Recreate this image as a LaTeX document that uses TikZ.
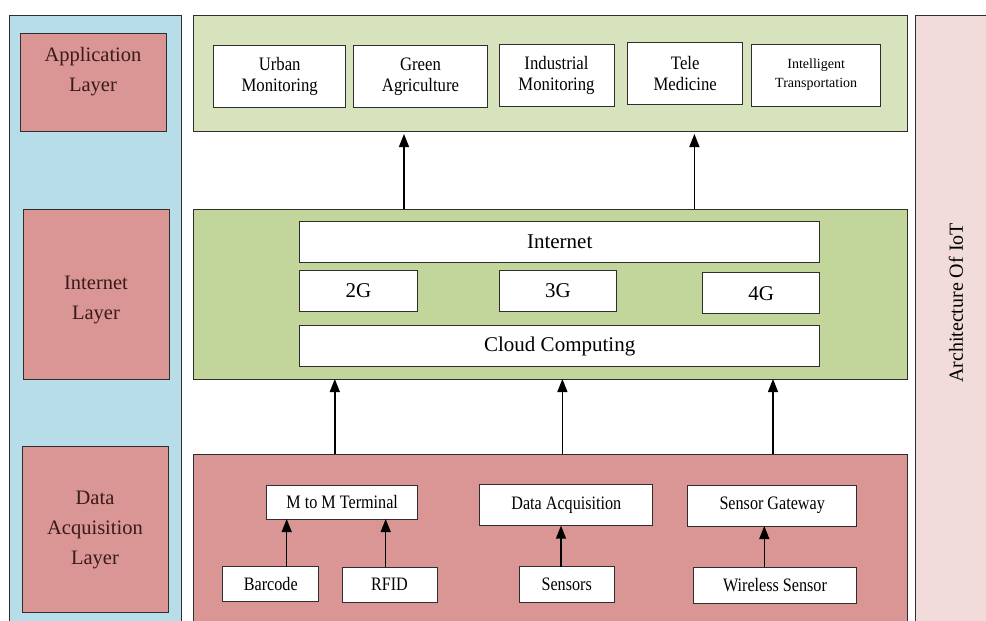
\documentclass[tikz,border=0pt]{standalone}
\usepackage{fontspec}
\setmainfont{Liberation Serif}
\newfontfamily\appf[FakeStretch=0.88]{Liberation Serif}
\newfontfamily\datf[FakeStretch=0.85]{Liberation Serif}
\usetikzlibrary{arrows.meta}
\definecolor{panelblue}{HTML}{B7DDE8}
\definecolor{layerred}{HTML}{D99694}
\definecolor{appgreen}{HTML}{D7E3BC}
\definecolor{netgreen}{HTML}{C2D69B}
\definecolor{panelpink}{HTML}{F2DBDB}
\definecolor{edge}{HTML}{2E2E2E}
\definecolor{labeltext}{HTML}{3A1A1A}
\begin{document}
\begin{tikzpicture}[x=1pt,y=-1pt,
  frame/.style={draw=edge, line width=1pt, inner sep=0pt, outer sep=0pt},
  wbox/.style={frame, fill=white, align=center, text=black},
  lbltext/.style={align=center, text=labeltext, font=\fontsize{20.5}{30}\selectfont},
  apptext/.style={font=\appf\fontsize{19}{21}\selectfont},
  nettext/.style={font=\fontsize{21}{24}\selectfont},
  dattext/.style={font=\datf\fontsize{19}{22}\selectfont},
  arr/.style={line width=1.4pt, draw=black, -{Triangle[width=10pt,length=13pt]}},
]
\useasboundingbox (0,0) rectangle (986,621);
\fill[white] (0,0) rectangle (986,621);
\begin{scope}
\clip (0,0) rectangle (986,621);
% side panels
\node[frame, fill=panelblue, anchor=north west, minimum width=171.7pt, minimum height=640pt] (lp) at (9.3,15.7) {};
\node[frame, fill=panelpink, anchor=north west, minimum width=100pt, minimum height=640pt] (rp) at (915.7,15.7) {};
% layer panels
\node[frame, fill=appgreen, minimum width=714pt, minimum height=115.3pt] (alp) at (550,73.35) {};
\node[frame, fill=netgreen, minimum width=714pt, minimum height=170pt] (ilp) at (550,294) {};
\node[frame, fill=layerred, anchor=north west, minimum width=714pt, minimum height=200pt] (dlp) at (193,454) {};
\end{scope}
% left labels
\node[frame, fill=layerred, minimum width=146pt, minimum height=98pt] (appl) at (93,82) {};
\node[lbltext] (applt) at (93,72) {Application\\Layer};
\node[frame, fill=layerred, minimum width=146pt, minimum height=170pt] (netl) at (96,294) {};
\node[lbltext] (netlt) at (96,300) {Internet\\Layer};
\node[frame, fill=layerred, minimum width=146pt, minimum height=166pt] (datl) at (95,529) {};
\node[lbltext] (datlt) at (95,530) {Data\\Acquisition\\Layer};
% right title
\node[rotate=90, text=black, font=\fontsize{20}{24}\selectfont] (arch) at (956,303) {Architecture Of IoT};
% application boxes
\node[wbox, apptext, minimum width=131.5pt, minimum height=61.6pt] (urban) at (279.7,76.5) {Urban\\Monitoring};
\node[wbox, apptext, minimum width=134.7pt, minimum height=61.6pt] (green) at (420.5,76.5) {Green\\Agriculture};
\node[wbox, apptext, minimum width=115pt, minimum height=62pt] (indus) at (556.5,75) {Industrial\\Monitoring};
\node[wbox, apptext, minimum width=115pt, minimum height=62pt] (tele) at (685.2,73.7) {Tele\\Medicine};
\node[wbox, font=\fontsize{14}{19}\selectfont, minimum width=128.8pt, minimum height=62pt] (intel) at (816.2,75) {Intelligent\\Transportation};
% internet layer boxes
\node[wbox, nettext, minimum width=520.5pt, minimum height=40.6pt] (inet) at (559.7,242) {Internet};
\node[wbox, nettext, minimum width=118.2pt, minimum height=41pt] (g2) at (358.5,290.5) {2G};
\node[wbox, nettext, minimum width=117.7pt, minimum height=41pt] (g3) at (557.9,290.5) {3G};
\node[wbox, nettext, minimum width=117.3pt, minimum height=41.3pt] (g4) at (761.3,293.3) {4G};
\node[wbox, nettext, minimum width=520.5pt, minimum height=41pt] (cloud) at (559.7,346.2) {Cloud Computing};
% data layer boxes
\node[wbox, dattext, minimum width=151pt, minimum height=34pt] (m2m) at (342.2,502) {M to M Terminal};
\node[wbox, dattext, minimum width=173.3pt, minimum height=40.7pt] (dacq) at (566.3,505.3) {Data Acquisition};
\node[wbox, dattext, minimum width=169pt, minimum height=41pt] (sgw) at (772.2,505.5) {Sensor Gateway};
\node[wbox, dattext, minimum width=95.7pt, minimum height=35pt] (bar) at (270.8,584.2) {Barcode};
\node[wbox, dattext, minimum width=95pt, minimum height=35pt] (rfid) at (389.5,584.5) {RFID};
\node[wbox, dattext, minimum width=94.7pt, minimum height=36pt] (sens) at (566.7,584.7) {Sensors};
\node[wbox, dattext, minimum width=163.4pt, minimum height=36pt] (wsen) at (775,585) {Wireless Sensor};
% arrow x positions
\coordinate (xa1) at (404,0);
\coordinate (xa2) at (694.4,0);
\coordinate (xb1) at (334.8,0);
\coordinate (xb2) at (562.4,0);
\coordinate (xb3) at (773,0);
\coordinate (xc1) at (286.7,0);
\coordinate (xc2) at (385.7,0);
\coordinate (xc3) at (561,0);
\coordinate (xc4) at (764.3,0);
% arrows
\draw[arr, shorten >=3pt] (ilp.north -| xa1) -- (alp.south -| xa1);
\draw[arr, shorten >=3pt] (ilp.north -| xa2) -- (alp.south -| xa2);
\draw[arr] (dlp.north -| xb1) -- (ilp.south -| xb1);
\draw[arr] (dlp.north -| xb2) -- (ilp.south -| xb2);
\draw[arr] (dlp.north -| xb3) -- (ilp.south -| xb3);
\draw[arr] (bar.north -| xc1) -- (m2m.south -| xc1);
\draw[arr] (rfid.north -| xc2) -- (m2m.south -| xc2);
\draw[arr] (sens.north -| xc3) -- (dacq.south -| xc3);
\draw[arr] (wsen.north -| xc4) -- (sgw.south -| xc4);
\end{tikzpicture}
\end{document}
